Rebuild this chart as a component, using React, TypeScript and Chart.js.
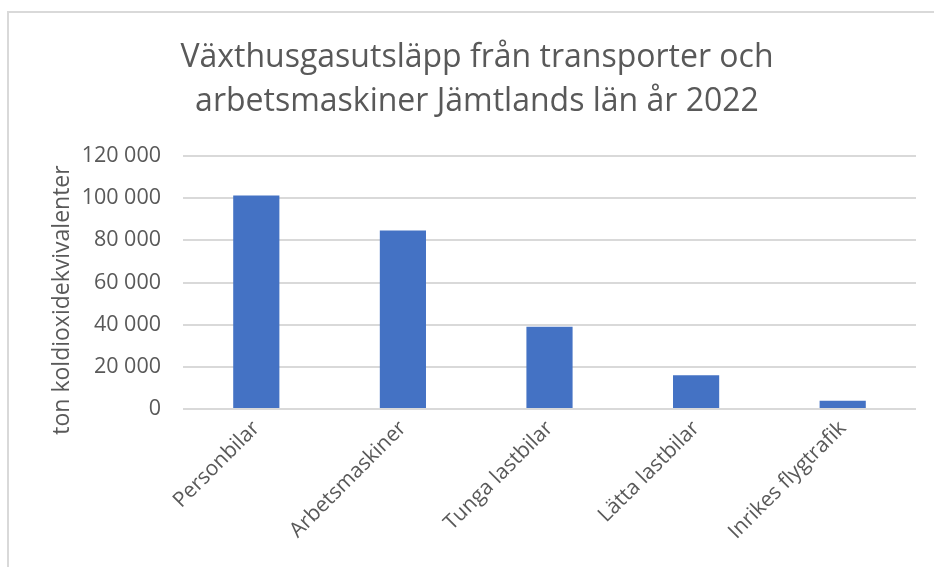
import React, { useEffect, useRef } from "react";
import { Chart, registerables } from "chart.js";

Chart.register(...registerables);

const categories = ["Personbilar", "Arbetsmaskiner", "Tunga lastbilar", "Lätta lastbilar", "Inrikes flygtrafik"];
const emissions = [101300, 84700, 39000, 16000, 3900];
const titleLines = ["Växthusgasutsläpp från transporter och", "arbetsmaskiner Jämtlands län år 2022"];
const yAxisTitle = "ton koldioxidekvivalenter";
const yTickValues = [0, 20000, 40000, 60000, 80000, 100000, 120000];

const TEXT = "#595959";
const FONT = "'Open Sans', 'Noto Sans', sans-serif";

const fmt = (v: number) => String(v).replace(/\B(?=(\d{3})+(?!\d))/g, " ");

export default function App() {
  const ref = useRef<HTMLCanvasElement | null>(null);

  useEffect(() => {
    document.body.style.margin = "0";
    const canvas = ref.current;
    if (!canvas) return;

    const framePlugin = {
      id: "frame",
      beforeDraw(chart: any) {
        const ctx = chart.ctx;
        ctx.save();
        ctx.fillStyle = "#ffffff";
        ctx.fillRect(0, 0, chart.width, chart.height);
        ctx.fillStyle = "#d9d9d9";
        ctx.fillRect(7, 11, 2, chart.height - 11);
        ctx.fillRect(7, 11, chart.width - 7, 2);
        ctx.restore();
      },
    };

    const textPlugin = {
      id: "texts",
      afterDraw(chart: any) {
        const ctx = chart.ctx;
        ctx.save();
        ctx.fillStyle = TEXT;
        ctx.textAlign = "center";
        ctx.textBaseline = "middle";
        ctx.font = `32px ${FONT}`;
        ctx.fillText(titleLines[0], 477, 58);
        ctx.fillText(titleLines[1], 477, 102);
        ctx.translate(62, 300);
        ctx.rotate(-Math.PI / 2);
        ctx.font = `23px ${FONT}`;
        ctx.fillText(yAxisTitle, 0, 0);
        ctx.restore();
      },
    };

    const chart = new Chart(canvas, {
      type: "bar",
      data: {
        labels: categories,
        datasets: [
          {
            data: emissions,
            backgroundColor: "#4472C4",
            barPercentage: 0.315,
            categoryPercentage: 1,
          },
        ],
      },
      options: {
        responsive: false,
        animation: false,
        layout: { padding: { left: 0, right: 18, top: 156, bottom: 0 } },
        plugins: {
          legend: { display: false },
          tooltip: { enabled: false },
          title: { display: false },
        },
        scales: {
          x: {
            grid: { display: false, drawTicks: false },
            border: { display: false },
            ticks: {
              color: TEXT,
              font: { family: FONT, size: 21 },
              minRotation: 45,
              maxRotation: 45,
              padding: 7,
            },
            afterFit(scale: any) {
              scale.height = 158;
            },
          },
          y: {
            min: 0,
            max: 120000,
            grid: { color: "#d9d9d9", lineWidth: 2, drawTicks: false },
            border: { display: false },
            afterBuildTicks(scale: any) {
              scale.ticks = yTickValues.map((v) => ({ value: v }));
            },
            ticks: {
              color: TEXT,
              font: { family: FONT, size: 21.5 },
              padding: 22,
              callback: (v: any) => fmt(Number(v)),
            },
            afterFit(scale: any) {
              scale.width = 183;
            },
          },
        },
      },
      plugins: [framePlugin, textPlugin],
    });

    return () => chart.destroy();
  }, []);

  return <canvas ref={ref} width={934} height={567} style={{ display: "block" }} />;
}
